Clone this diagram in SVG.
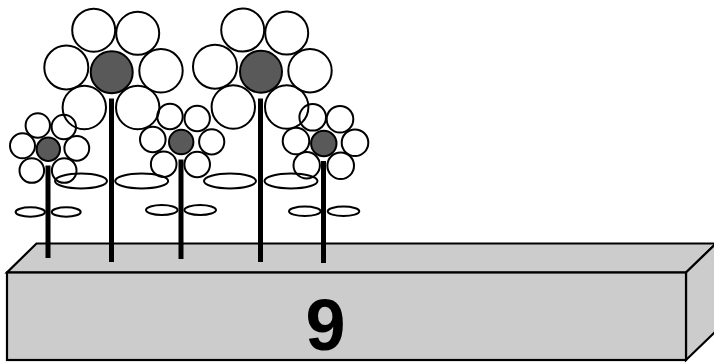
<svg xmlns="http://www.w3.org/2000/svg" width="714" height="363" viewBox="0 0 714 363">
<style>
.p{fill:none;stroke:#000;stroke-width:2}
.c{fill:#595959;stroke:#000;stroke-width:2}
.lf{fill:none;stroke:#000;stroke-width:2}
.st{stroke:#000;stroke-width:5}
.bx{fill:#cccccc;stroke:#000;stroke-width:2.2;stroke-linejoin:miter}
.num{font-family:"Liberation Sans",Arial,sans-serif;font-weight:bold;font-size:72px;fill:#000;text-anchor:middle}
</style>
<rect width="714" height="363" fill="#fff"/>
<g id="box">
<polygon class="bx" points="36.5,243.5 716,243.5 686,272.5 7,272.5"/>
<polygon class="bx" points="686,272.5 716,243.5 716,331 686,360"/>
<rect class="bx" x="7" y="272.5" width="679" height="87.5"/>
<text class="num" x="325.5" y="350">9</text>
</g>
<g id="flower-big-1">
<circle class="p" cx="93.7" cy="30.2" r="21.5"/>
<circle class="p" cx="137.7" cy="33.3" r="21.5"/>
<circle class="p" cx="66.3" cy="67.5" r="22"/>
<circle class="p" cx="161" cy="70.8" r="21.7"/>
<circle class="p" cx="84.3" cy="107.5" r="21.7"/>
<circle class="p" cx="137.7" cy="107.5" r="21.7"/>
<circle class="c" cx="111.7" cy="72.2" r="21"/>
<line class="st" x1="111.5" y1="98.5" x2="111.5" y2="262"/>
<ellipse class="lf" cx="81" cy="181" rx="26" ry="7.5"/>
<ellipse class="lf" cx="141.7" cy="181" rx="26.5" ry="7.5"/>
</g>
<g id="flower-big-2">
<circle class="p" cx="242.7" cy="30" r="21.5"/>
<circle class="p" cx="286.7" cy="33" r="21.5"/>
<circle class="p" cx="215" cy="66.7" r="22"/>
<circle class="p" cx="310" cy="70.7" r="21.7"/>
<circle class="p" cx="233.3" cy="107" r="21.7"/>
<circle class="p" cx="286.7" cy="107" r="21.7"/>
<circle class="c" cx="261" cy="71.7" r="21"/>
<line class="st" x1="260.5" y1="98.5" x2="260.5" y2="262"/>
<ellipse class="lf" cx="230" cy="181" rx="26" ry="7.5"/>
<ellipse class="lf" cx="291" cy="181" rx="26.5" ry="7.5"/>
</g>
<g id="flower-small-1">
<circle class="p" cx="37.8" cy="125.5" r="12.2"/>
<circle class="p" cx="63.8" cy="127" r="12.2"/>
<circle class="p" cx="22.5" cy="145.8" r="12.5"/>
<circle class="p" cx="76.8" cy="148.3" r="12.4"/>
<circle class="p" cx="31.8" cy="170.5" r="12.3"/>
<circle class="p" cx="64.2" cy="170.5" r="12.3"/>
<circle class="c" cx="48.3" cy="149.3" r="11.7"/>
<line class="st" x1="48" y1="165.5" x2="48" y2="258"/>
<ellipse class="lf" cx="30.3" cy="212" rx="14.7" ry="4.7"/>
<ellipse class="lf" cx="66.2" cy="212" rx="14.5" ry="4.7"/>
</g>
<g id="flower-small-2">
<circle class="p" cx="170" cy="116.5" r="12.7"/>
<circle class="p" cx="197.2" cy="118.5" r="12.7"/>
<circle class="p" cx="152.8" cy="139.5" r="12.8"/>
<circle class="p" cx="211.7" cy="141.8" r="12.6"/>
<circle class="p" cx="163.7" cy="164.2" r="12.8"/>
<circle class="p" cx="197.2" cy="164.5" r="12.8"/>
<circle class="c" cx="181.2" cy="142" r="12.2"/>
<line class="st" x1="181" y1="159.5" x2="181" y2="259"/>
<ellipse class="lf" cx="161.8" cy="210" rx="15.8" ry="5"/>
<ellipse class="lf" cx="200.2" cy="210" rx="15.8" ry="5"/>
</g>
<g id="flower-small-3">
<circle class="p" cx="312.7" cy="117.3" r="13.3"/>
<circle class="p" cx="340" cy="119.2" r="13.3"/>
<circle class="p" cx="296" cy="141" r="13.3"/>
<circle class="p" cx="355" cy="142.7" r="13.3"/>
<circle class="p" cx="306.7" cy="165.3" r="13.2"/>
<circle class="p" cx="340.7" cy="165.7" r="13.3"/>
<circle class="c" cx="323.8" cy="143.5" r="12.7"/>
<line class="st" x1="323.5" y1="161" x2="323.5" y2="263"/>
<ellipse class="lf" cx="304.8" cy="211.3" rx="15.8" ry="4.7"/>
<ellipse class="lf" cx="343.5" cy="211.3" rx="15.8" ry="4.7"/>
</g>
<g id="connectors"/>
</svg>
